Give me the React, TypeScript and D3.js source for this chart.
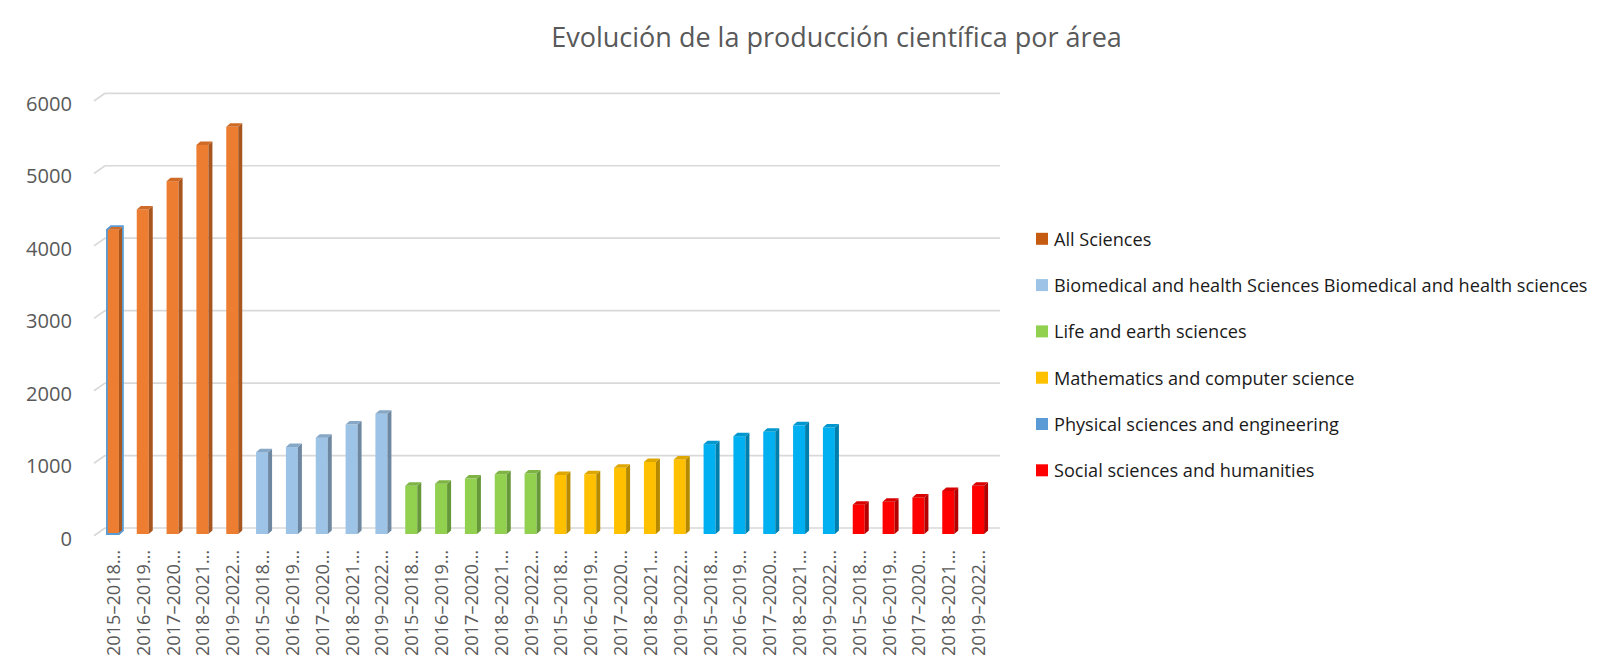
import React, { useLayoutEffect, useRef } from "react";
import * as d3 from "d3";

const periods = ["2015–2018…", "2016–2019…", "2017–2020…", "2018–2021…", "2019–2022…"];
const areas = [
  "All Sciences",
  "Biomedical and health Sciences Biomedical and health sciences",
  "Life and earth sciences",
  "Mathematics and computer science",
  "Physical sciences and engineering",
  "Social sciences and humanities",
];
const allSciences = [4200, 4480, 4870, 5370, 5620];
const biomedical = [1130, 1200, 1330, 1510, 1660];
const lifeEarth = [665, 695, 765, 825, 835];
const mathComputer = [815, 825, 915, 995, 1030];
const physical = [1240, 1350, 1410, 1500, 1470];
const social = [405, 445, 505, 595, 665];
const yTicks = [0, 1000, 2000, 3000, 4000, 5000, 6000];
const title = "Evolución de la producción científica por área";

const seriesValues = [allSciences, biomedical, lifeEarth, mathComputer, physical, social];

const palette = [
  { front: "#ED7D31", side: "#A9551E", top: "#CF6A27", legend: "#C55A11" },
  { front: "#9DC3E6", side: "#6E88A2", top: "#86A7C6", legend: "#9DC3E6" },
  { front: "#92D050", side: "#66983A", top: "#7DB443", legend: "#92D050" },
  { front: "#FFC000", side: "#B58A00", top: "#DDA600", legend: "#FFC000" },
  { front: "#00B0F0", side: "#007EAC", top: "#0098CF", legend: "#5B9BD5" },
  { front: "#FF0000", side: "#B30000", top: "#D80000", legend: "#FF0000" },
];

type Bar = { id: number; area: number; label: string; value: number };
const bars: Bar[] = [];
seriesValues.forEach((vals, a) =>
  vals.forEach((v, j) => bars.push({ id: bars.length, area: a, label: periods[j], value: v }))
);

const FONT = "'Open Sans', 'DejaVu Sans', sans-serif";

export default function App() {
  const ref = useRef<SVGSVGElement>(null);

  const W = 1600;
  const H = 670;
  const x = d3
    .scaleBand<number>()
    .domain(bars.map((b) => b.id))
    .range([98, 993])
    .paddingInner(0)
    .paddingOuter(0);
  const y = d3.scaleLinear().domain([0, 6000]).range([528, 93.3]);
  const frontW = 12;
  const depthX = 4;
  const depthY = 3.5;
  const frontDy = 6;
  const floorDx = 11;
  const floorDy = 7.7;
  const gridLeft = 105;
  const gridRight = 1000;

  const legendRows = d3.range(areas.length).map((i) => 238.8 + i * 46.3);

  useLayoutEffect(() => {
    document.body.style.margin = "0";
    const svg = d3.select(ref.current);
    const groups = ["title", "ytick", "xtick", "legend"];
    groups.forEach((g) => {
      const refEl = svg.select<SVGTextElement>(`text[data-fit-ref="${g}"]`).node();
      if (!refEl) return;
      const target = +(refEl.getAttribute("data-target") || 0);
      const len = refEl.getComputedTextLength();
      if (!len) return;
      const base = parseFloat(refEl.getAttribute("font-size") || "16");
      const fs = (base * target) / len;
      svg.selectAll(`text[data-fit="${g}"]`).attr("font-size", fs);
    });
  }, []);

  return (
    <svg ref={ref} width={W} height={H} style={{ display: "block", background: "#fff" }} fontFamily={FONT}>
      <text
        x={836.5}
        y={46.7}
        textAnchor="middle"
        fill="#595959"
        fontSize={26}
        data-fit="title"
        data-fit-ref="title"
        data-target={571}
      >
        {title}
      </text>

      {yTicks.map((t) => (
        <g key={t}>
          <line x1={gridLeft} x2={gridRight} y1={y(t)} y2={y(t)} stroke="#D9D9D9" strokeWidth={1.7} />
          <line
            x1={gridLeft - floorDx}
            x2={gridLeft}
            y1={y(t) + floorDy}
            y2={y(t)}
            stroke="#D9D9D9"
            strokeWidth={1.7}
          />
          <text
            x={72}
            y={y(t) + 10}
            textAnchor="end"
            dominantBaseline="central"
            fill="#595959"
            fontSize={20}
            data-fit="ytick"
            data-fit-ref={t === 6000 ? "ytick" : undefined}
            data-target={46}
          >
            {t}
          </text>
        </g>
      ))}

      {bars.map((b) => {
        const cx = (x(b.id) as number) + x.bandwidth() / 2;
        const x0 = cx - frontW / 2;
        const x1 = cx + frontW / 2;
        const top = y(b.value) + frontDy;
        const bottom = y(0) + frontDy;
        const c = palette[b.area];
        const side = `M${x1},${top}L${x1 + depthX},${top - depthY}L${x1 + depthX},${bottom - depthY}L${x1},${bottom}Z`;
        const topFace = `M${x0},${top}L${x0 + depthX},${top - depthY}L${x1 + depthX},${top - depthY}L${x1},${top}Z`;
        const outline = `M${x0},${bottom}L${x0},${top}L${x0 + depthX},${top - depthY}L${x1 + depthX},${top - depthY}L${x1 + depthX},${bottom - depthY}L${x1},${bottom}Z`;
        return (
          <g key={b.id}>
            <rect x={x0} y={top} width={frontW} height={bottom - top} fill={c.front} />
            <path d={side} fill={c.side} />
            <path d={topFace} fill={c.top} />
            {b.id === 0 && <path d={outline} fill="none" stroke="#5B9BD5" strokeWidth={1.8} />}
            <text
              transform={`translate(${cx},${550}) rotate(-90)`}
              textAnchor="end"
              dominantBaseline="central"
              fill="#595959"
              fontSize={18}
              data-fit="xtick"
              data-fit-ref={b.id === 0 ? "xtick" : undefined}
              data-target={106}
            >
              {b.label}
            </text>
          </g>
        );
      })}

      {areas.map((a, i) => (
        <g key={a}>
          <rect x={1036} y={legendRows[i] - 6} width={12} height={12} fill={palette[i].legend} />
          <text
            x={1054}
            y={legendRows[i]}
            dominantBaseline="central"
            fill="#1A1A1A"
            fontSize={16}
            data-fit="legend"
            data-fit-ref={i === 1 ? "legend" : undefined}
            data-target={534}
          >
            {a}
          </text>
        </g>
      ))}
    </svg>
  );
}
